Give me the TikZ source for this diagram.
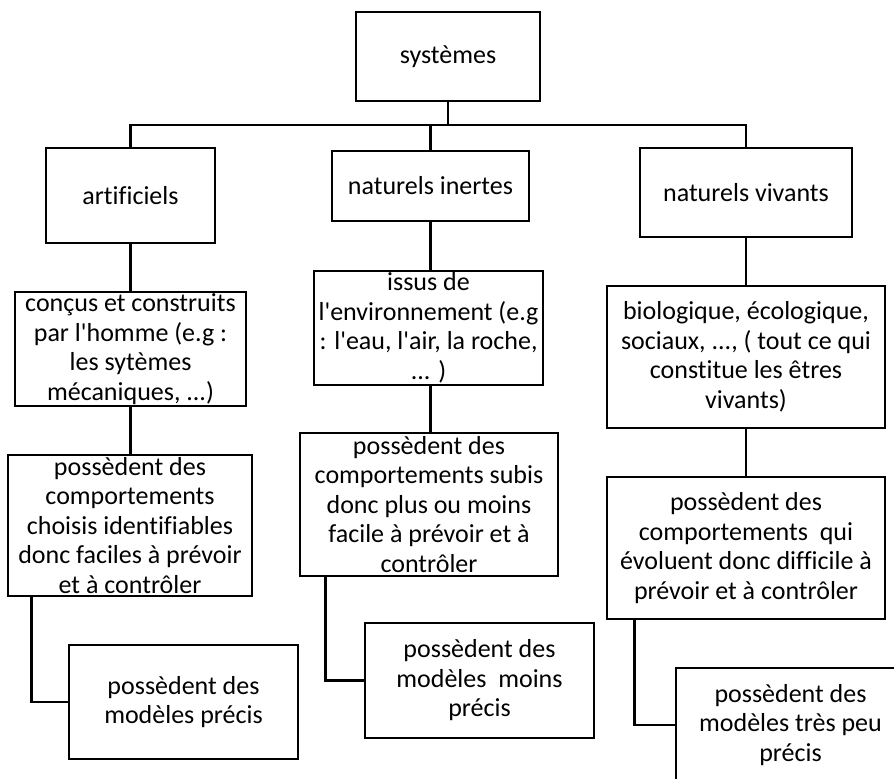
\documentclass[tikz,border=0pt]{standalone}
\usepackage{fontspec}
\setmainfont{Carlito}[Ligatures={TeXOff,CommonOff}]
\begin{document}
\begin{tikzpicture}[x=0.5pt,y=-0.5pt,
  box/.style={draw, line width=1.3pt, align=center, inner sep=0pt,
              font=\fontsize{13}{14.75}\selectfont},
  link/.style={line width=1.3pt}]
\useasboundingbox (0,0) rectangle (894,779);
\clip (0,0) rectangle (894,779);

% root and first level
\node[box, minimum width=92pt,  minimum height=44.5pt] (sys) at (448,56.5) {systèmes};
\node[box, minimum width=84.5pt, minimum height=47.5pt] (art) at (130.5,195.5) {artificiels};
\node[box, minimum width=98.5pt, minimum height=35pt]   (ni)  at (430.5,186) {naturels inertes};
\node[box, minimum width=106pt, minimum height=44.5pt]  (nv)  at (746,192.5) {naturels vivants};

% descriptions
\node[box, minimum width=115.5pt, minimum height=57pt] (con) at (130.5,349)
  {conçus et construits\\par l'homme (e.g :\\les sytèmes\\mécaniques, ...)};
\node[box, minimum width=114.5pt, minimum height=57pt] (iss) at (428.5,328)
  {issus de\\l'environnement (e.g\\: l'eau, l'air, la roche,\\... )};
\node[box, minimum width=139pt, minimum height=71pt] (bio) at (746,357)
  {biologique, écologique,\\sociaux, ..., ( tout ce qui\\constitue les êtres\\vivants)};

% behaviours
\node[box, minimum width=122pt, minimum height=70.5pt] (cho) at (130,525.5)
  {possèdent des\\comportements\\choisis identifiables\\donc faciles à prévoir\\et à contrôler};
\node[box, minimum width=129pt, minimum height=71.5pt] (sub) at (429,504.5)
  {possèdent des\\comportements subis\\donc plus ou moins\\facile à prévoir et à\\contrôler};
\node[box, minimum width=139pt, minimum height=71pt] (evo) at (746,548)
  {possèdent des\\comportements~ qui\\évoluent donc difficile à\\prévoir et à contrôler};

% models
\node[box, minimum width=114.5pt, minimum height=57pt] (mp) at (183.5,702)
  {possèdent des\\modèles précis};
\node[box, minimum width=114.5pt, minimum height=57.5pt] (mmp) at (479.5,680.5)
  {possèdent des\\modèles~ moins\\précis};
\node[box, minimum width=114.5pt, minimum height=57pt] (mtp) at (790.5,725)
  {possèdent des\\modèles très peu\\précis};

% tree connectors
\coordinate (bus) at (0,125);
\draw[link] (sys.south) -- (sys.south |- bus);
\draw[link] (art.north) -- (art.north |- bus) -- (nv.north |- bus) -- (nv.north);
\draw[link] (ni.north) -- (ni.north |- bus);

\draw[link] (art.south) -- (art.south |- con.north);
\draw[link] (con.south) -- (con.south |- cho.north);
\draw[link] (ni.south) -- (ni.south |- iss.north);
\draw[link] ([xshift=1pt]iss.south) -- ([xshift=1pt]iss.south |- sub.north);
\draw[link] (nv.south) -- (nv.south |- bio.north);
\draw[link] (bio.south) -- (bio.south |- evo.north);

% elbows to the model boxes
\draw[link] ([xshift=12.5pt]cho.south west) |- (mp.west);
\draw[link] ([xshift=13.5pt]sub.south west) |- (mmp.west);
\draw[link] ([xshift=14.5pt]evo.south west) |- (mtp.west);
\end{tikzpicture}
\end{document}
